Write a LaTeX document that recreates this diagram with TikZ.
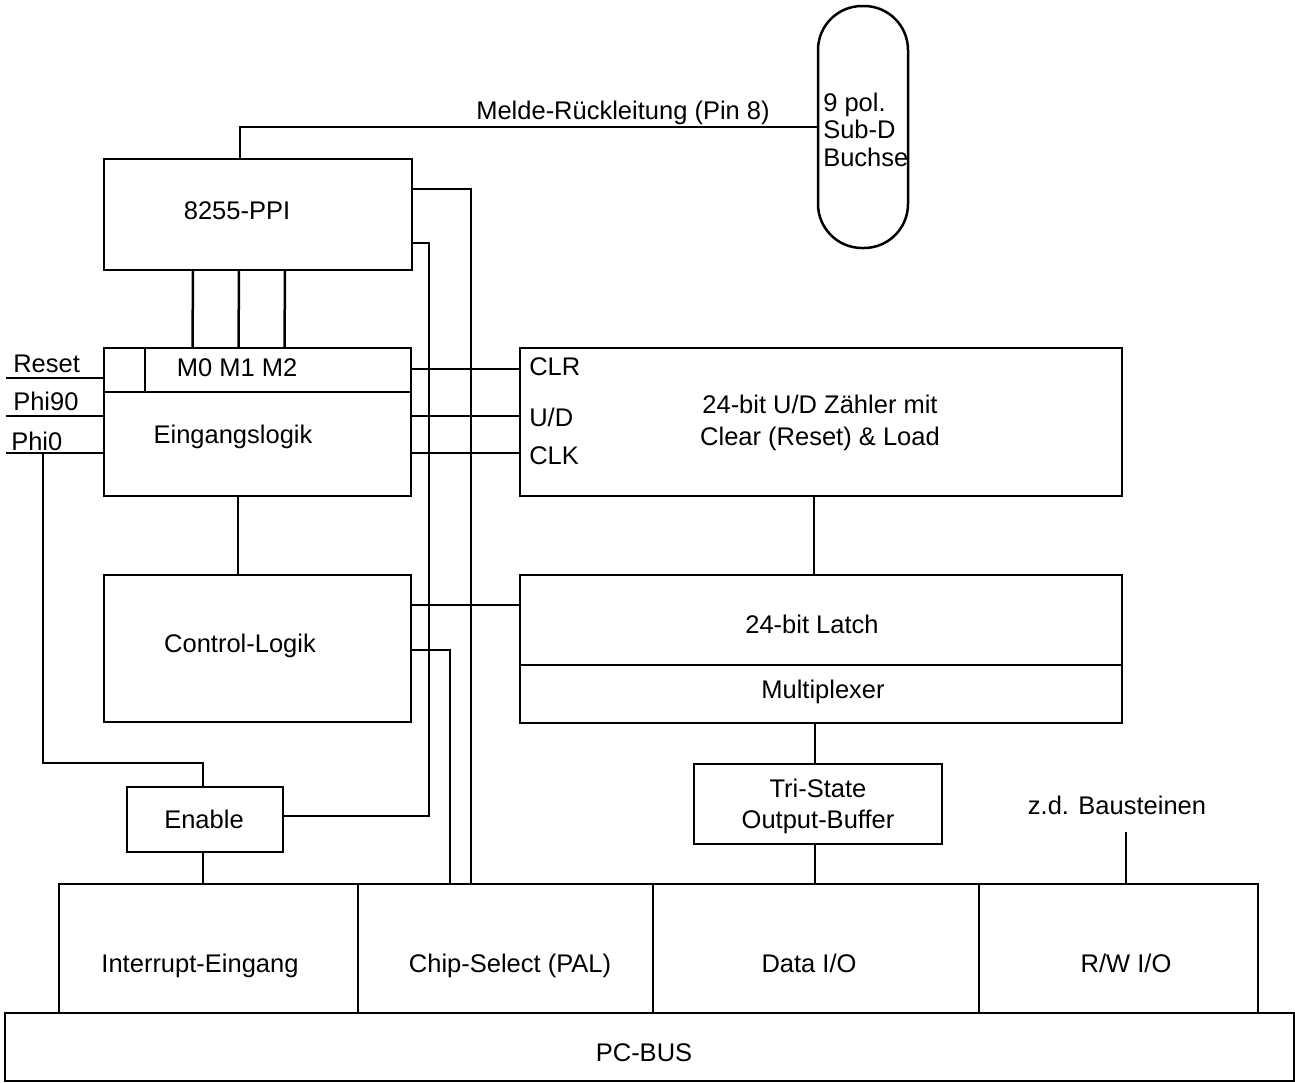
\documentclass[tikz,border=0pt]{standalone}
\usepackage{fontspec}
\setmainfont{Liberation Sans}
\begin{document}
\begin{tikzpicture}[x=1pt,y=-1pt,line width=2.5pt,
  box/.style={draw,line width=2.5pt,inner sep=0pt,outer sep=0pt,anchor=center},
  lbl/.style={anchor=base,inner sep=0pt,font=\fontsize{25.5}{30}\selectfont},
  lblw/.style={lbl,anchor=base west}]
\useasboundingbox (0,0) rectangle (1295,1082);
% boxes
\node[box,minimum width=308pt,minimum height=111pt] (ppi) at (258,214.5) {};
\node[box,minimum width=307pt,minimum height=148pt] (ein) at (257.5,422) {};
\node[box,minimum width=307pt,minimum height=147pt] (ctl) at (257.5,648.5) {};
\node[box,minimum width=156pt,minimum height=65pt] (enable) at (205,819.5) {};
\node[box,minimum width=602pt,minimum height=148pt] (cnt) at (821,422) {};
\node[box,minimum width=602pt,minimum height=148pt] (latch) at (821,649) {};
\node[box,minimum width=248pt,minimum height=80pt] (tri) at (818,804) {};
\node[box,minimum width=299pt,minimum height=129pt] (irq) at (208.5,948.5) {};
\node[box,minimum width=295pt,minimum height=129pt] (cs) at (505.5,948.5) {};
\node[box,minimum width=326pt,minimum height=129pt] (data) at (816,948.5) {};
\node[box,minimum width=279pt,minimum height=129pt] (rw) at (1118.5,948.5) {};
\node[box,minimum width=1289pt,minimum height=68pt] (bus) at (649.5,1047) {};
\node[box,rounded corners=44pt,minimum width=90pt,minimum height=242pt] (subd) at (863,127) {};
% inner dividers
\draw ([yshift=30pt]ein.west) -- ([yshift=30pt]ein.east);
\draw ([xshift=-112.5pt]ein.north) -- ++(0,44);
\draw ([yshift=-16pt]latch.west) -- ([yshift=-16pt]latch.east);
% texts
\node[lbl] (tmelde) at (623,119) {Melde-Rückleitung (Pin 8)};
\node[lblw] (tsd1) at (822,111) {9 pol.};
\node[lblw] (tsd2) at (822,138) {Sub-D};
\node[lblw] (tsd3) at (822,166) {Buchse};
\node[lbl] (tppi) at (237,219) {8255-PPI};
\node[lbl] (tm) at (237,376) {M0 M1 M2};
\node[lbl] (tein) at (233,443) {Eingangslogik};
\node[lblw] (treset) at (12,372) {Reset};
\node[lblw] (tphi90) at (12,410) {Phi90};
\node[lblw] (tphi0) at (10,450) {Phi0};
\node[lblw] (tclr) at (528,375) {CLR};
\node[lblw] (tud) at (528,426) {U/D};
\node[lblw] (tclk) at (528,464) {CLK};
\node[lbl] (tcnt1) at (820,413) {24-bit U/D Zähler mit};
\node[lbl] (tcnt2) at (820,445) {Clear (Reset) \& Load};
\node[lbl] (tctl) at (240,652) {Control-Logik};
\node[lbl] (tlatch) at (812,633) {24-bit Latch};
\node[lbl] (tmux) at (823,698) {Multiplexer};
\node[lbl] (ttri1) at (818,797) {Tri-State};
\node[lbl] (ttri2) at (818,828) {Output-Buffer};
\node[lbl] (tzd) at (1117,814) {z.d. Bausteinen};
\node[lbl] (tenable) at (204,828) {Enable};
\node[lbl] (tirq) at (200,972) {Interrupt-Eingang};
\node[lbl] (tcs) at (510,972) {Chip-Select (PAL)};
\node[lbl] (tdata) at (809,972) {Data I/O};
\node[lbl] (trw) at (1126,972) {R/W I/O};
\node[lbl] (tbus) at (644,1061) {PC-BUS};
% connectors
\draw ([xshift=-18pt]ppi.north) |- (subd.west);
\foreach \s in {-65,-19,27} \draw ([xshift=\s pt]ppi.south) -- ([xshift=\s pt]ein.north);
\draw ([yshift=25.5pt]ppi.east) -| ([xshift=-34.5pt]cs.north);
\draw ([yshift=-28.5pt]ppi.east) -| ([xshift=146pt,yshift=3.5pt]enable.east) -- ([yshift=3.5pt]enable.east);
\foreach \s in {53,6,-31} \draw ([yshift=\s pt]ein.east) -- ([yshift=\s pt]ein.east -| cnt.west);
\draw ([xshift=-19.5pt]ein.south) -- ([xshift=-19.5pt]ctl.north);
\draw ([yshift=43.5pt]ctl.east) -- ([yshift=43.5pt]ctl.east -| latch.west);
\draw ([yshift=-1.5pt]ctl.east) -| ([xshift=-55.5pt]cs.north);
\coordinate (inreset) at (6,378);
\coordinate (inphi90) at (6,416);
\coordinate (inphi0) at (6,453);
\coordinate (phibr) at (43,453);
\draw (inreset) -- (inreset -| ein.west);
\draw (inphi90) -- (inphi90 -| ein.west);
\draw (inphi0) -- (inphi0 -| ein.west);
\draw (phibr) |- ([xshift=-2pt,yshift=24pt]enable.north) -- ([xshift=-2pt]enable.north);
\draw ([xshift=-2pt]enable.south) -- ([xshift=-2pt]enable.south |- irq.north);
\draw ([xshift=-7pt]cnt.south) -- ([xshift=-7pt]latch.north);
\draw ([xshift=-3pt]tri.north |- latch.south) -- ([xshift=-3pt]tri.north);
\draw ([xshift=-3pt]tri.south) -- ([xshift=-3pt]tri.south |- data.north);
\draw ([xshift=7.5pt]rw.north) -- ++(0,-52);
\end{tikzpicture}
\end{document}
